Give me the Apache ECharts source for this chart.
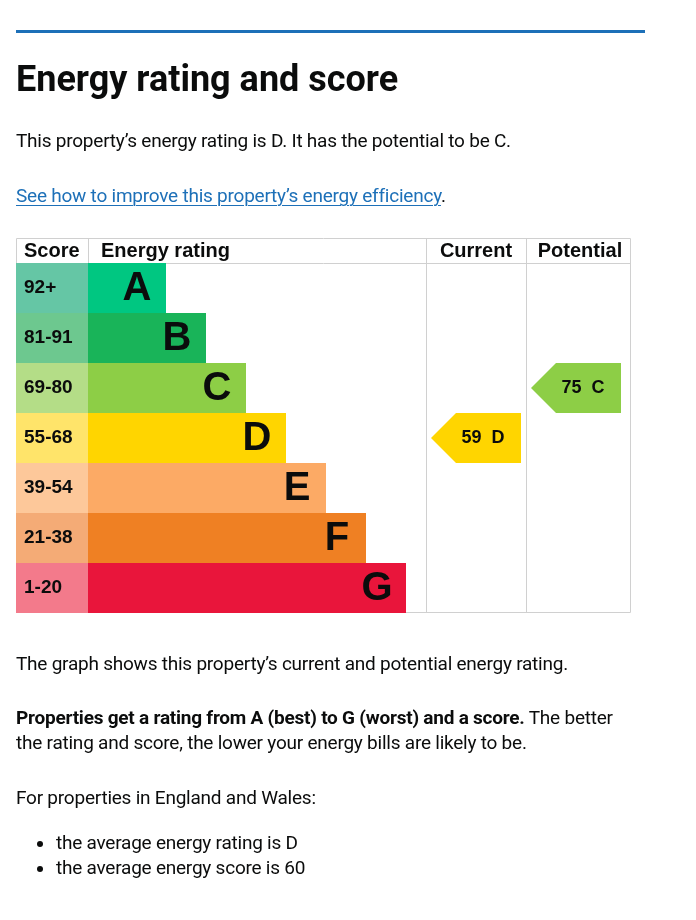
<!DOCTYPE html>
<html>
<head>
<meta charset="utf-8">
<script src="https://cdn.jsdelivr.net/npm/echarts@6/dist/echarts.min.js"></script>
<style>
  html, body { margin: 0; padding: 0; background: #fff; }
  body { width: 696px; height: 920px; position: relative; overflow: hidden; font-family: Roboto, "Noto Sans", sans-serif; color: #0b0c0c; }
  #chart { position: absolute; left: 0; top: 0; width: 696px; height: 920px; }
  .t { position: absolute; left: 16px; font-size: 19px; line-height: 25px; white-space: nowrap; z-index: 2; letter-spacing: -0.23px; }
  .rule { position: absolute; left: 16px; top: 30px; width: 629px; height: 3px; background: #1d70b8; z-index: 2; }
  h1 { position: absolute; left: 16px; top: 61px; margin: 0; font-size: 36px; line-height: 36px; font-weight: 700; z-index: 2; letter-spacing: 0; }
  a { color: #1d70b8; text-decoration: underline; text-underline-offset: 3px; text-decoration-thickness: 1px; }
  .dot { position: absolute; left: 37px; width: 6px; height: 6px; border-radius: 50%; background: #0b0c0c; z-index: 2; }
</style>
</head>
<body>
<div id="chart"></div>
<div class="rule"></div>
<h1>Energy rating and score</h1>
<div class="t" style="top:128px">This property’s energy rating is D. It has the potential to be C.</div>
<div class="t" style="top:183px"><a href="#">See how to improve this property’s energy efficiency</a>.</div>
<div class="t" style="top:651px">The graph shows this property’s current and potential energy rating.</div>
<div class="t" style="top:705px"><b>Properties get a rating from A (best) to G (worst) and a score.</b> The better</div>
<div class="t" style="top:730px">the rating and score, the lower your energy bills are likely to be.</div>
<div class="t" style="top:785px">For properties in England and Wales:</div>
<div class="dot" style="top:841px"></div>
<div class="t" style="top:830px;left:56px">the average energy rating is D</div>
<div class="dot" style="top:866px"></div>
<div class="t" style="top:855px;left:56px">the average energy score is 60</div>
<script>
// 评级和分数段
const ratings = ['A', 'B', 'C', 'D', 'E', 'F', 'G'];
const scoreBands = ['92+', '81-91', '69-80', '55-68', '39-54', '21-38', '1-20'];
// bar length by band (A shortest)
const bandLength = [2, 3, 4, 5, 6, 7, 8];
const bandColors = ['#00c781', '#19b459', '#8dce46', '#ffd500', '#fcaa65', '#ef8023', '#e9153b'];
const scoreColors = ['#65c6a5', '#6dc88f', '#b4dd87', '#ffe46a', '#fdc89a', '#f4ab76', '#f37a8b'];
const headers = ['Score', 'Energy rating', 'Current', 'Potential'];
const current = { score: 59, rating: 'D' };
const potential = { score: 75, rating: 'C' };

const lineColor = '#d0d0d0';
const font = 'Arial, "Liberation Sans", sans-serif';
const arrowPath = 'path://M0,25 L25,0 L90,0 L90,50 L25,50 Z';

function arrowSeries(idx, item) {
  return {
    type: 'scatter',
    xAxisIndex: idx, yAxisIndex: idx,
    data: [[0.5, item.rating]],
    symbol: arrowPath,
    symbolSize: [90, 50],
    itemStyle: { color: bandColors[ratings.indexOf(item.rating)], opacity: 1 },
    label: {
      show: true, position: 'inside', offset: [7, 0],
      formatter: item.score + '  ' + item.rating,
      fontFamily: font, fontWeight: 'bold', fontSize: 18, color: '#0b0c0c'
    },
    silent: true, z: 5
  };
}

const grids = [
  { left: 16, top: 263, width: 72, height: 350 },
  { left: 86, top: 263, width: 340, height: 350 },
  { left: 426, top: 263, width: 100, height: 350 },
  { left: 526, top: 263, width: 100, height: 350 }
];

const option = {
  animation: false,
  grid: grids,
  xAxis: [
    { gridIndex: 0, type: 'value', min: 0, max: 1, show: false },
    { gridIndex: 1, type: 'value', min: 0, max: 8.5, show: false },
    { gridIndex: 2, type: 'value', min: 0, max: 1, show: false },
    { gridIndex: 3, type: 'value', min: 0, max: 1, show: false }
  ],
  yAxis: [0, 1, 2, 3].map(i => ({ gridIndex: i, type: 'category', inverse: true, data: ratings, show: false })),
  series: [
    {
      type: 'bar', xAxisIndex: 1, yAxisIndex: 1,
      barCategoryGap: 0,
      data: bandLength.map((v, i) => ({ value: v, itemStyle: { color: bandColors[i] } })),
      label: {
        show: true, position: 'insideRight', distance: 29, align: 'center', offset: [0, 1],
        formatter: p => ratings[p.dataIndex],
        fontFamily: font, fontWeight: 'bold', fontSize: 40, color: '#0b0c0c'
      },
      silent: true, z: 2
    },
    {
      type: 'bar', xAxisIndex: 0, yAxisIndex: 0,
      barCategoryGap: 0,
      data: scoreBands.map((s, i) => ({ value: 1, itemStyle: { color: scoreColors[i] } })),
      label: {
        show: true, position: 'insideLeft', distance: 8,
        formatter: p => scoreBands[p.dataIndex],
        fontFamily: font, fontWeight: 'bold', fontSize: 19, color: '#0b0c0c'
      },
      silent: true, z: 3
    },
    arrowSeries(2, current),
    arrowSeries(3, potential)
  ],
  graphic: [
    { type: 'rect', shape: { x: 16.5, y: 238.5, width: 614, height: 374 }, style: { fill: null, stroke: lineColor, lineWidth: 1 }, z: 1 },
    { type: 'line', shape: { x1: 16, y1: 263.5, x2: 631, y2: 263.5 }, style: { stroke: lineColor, lineWidth: 1 }, z: 1 },
    { type: 'line', shape: { x1: 88.5, y1: 238, x2: 88.5, y2: 263 }, style: { stroke: lineColor, lineWidth: 1 }, z: 1 },
    { type: 'line', shape: { x1: 426.5, y1: 238, x2: 426.5, y2: 613 }, style: { stroke: lineColor, lineWidth: 1 }, z: 1 },
    { type: 'line', shape: { x1: 526.5, y1: 238, x2: 526.5, y2: 613 }, style: { stroke: lineColor, lineWidth: 1 }, z: 1 },
    { type: 'text', x: 24, y: 251, style: { text: headers[0], font: 'bold 20px ' + font, fill: '#0b0c0c', textVerticalAlign: 'middle' } },
    { type: 'text', x: 101, y: 251, style: { text: headers[1], font: 'bold 20px ' + font, fill: '#0b0c0c', textVerticalAlign: 'middle' } },
    { type: 'text', x: 476, y: 251, style: { text: headers[2], font: 'bold 20px ' + font, fill: '#0b0c0c', textAlign: 'center', textVerticalAlign: 'middle' } },
    { type: 'text', x: 580, y: 251, style: { text: headers[3], font: 'bold 20px ' + font, fill: '#0b0c0c', textAlign: 'center', textVerticalAlign: 'middle' } }
  ]
};

const chart = echarts.init(document.getElementById('chart'));
chart.setOption(option);
</script>
</body>
</html>
